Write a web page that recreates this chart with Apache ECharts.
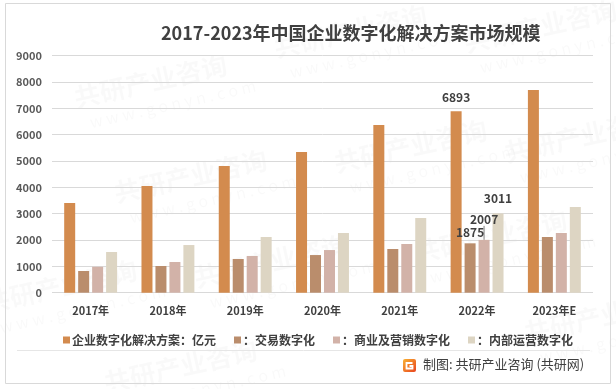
<!DOCTYPE html>
<html><head><meta charset="utf-8">
<script src="https://cdn.jsdelivr.net/npm/echarts@6/dist/echarts.min.js"></script>
<style>html,body{margin:0;padding:0;background:#fff}#c{width:616px;height:389px}</style>
</head><body><div id="c"></div>
<script>
var categories = ['2017年','2018年','2019年','2020年','2021年','2022年','2023年E'];
var seriesNames = ['企业数字化解决方案：亿元','：交易数字化','：商业及营销数字化','：内部运营数字化'];
var total = [3410, 4050, 4810, 5345, 6370, 6893, 7700];
var trade = [825, 1015, 1280, 1430, 1660, 1875, 2115];
var marketing = [985, 1165, 1395, 1620, 1850, 2007, 2267];
var internal = [1545, 1810, 2115, 2267, 2837, 3011, 3255];
var yTicks = [0, 1000, 2000, 3000, 4000, 5000, 6000, 7000, 8000, 9000];
var labelledIndex = 5;

var colors = ['#D38B4E','#BA8D6C','#D2B2A8','#DDD5C3'];
var FONT = '"Noto Sans CJK SC","Noto Sans",sans-serif';
var chart = echarts.init(document.getElementById('c'), null, {renderer:'canvas'});

function mk(values, dy){
  return values.map(function(v,i){
    if(i!==labelledIndex) return v;
    return {value:v, label:{show:true, position:'top', distance: dy, color:'#404040', fontWeight:'bold', fontSize:12, fontFamily:FONT}};
  });
}
var wm = [];
var wmPos = [[130,95],[330,45],[520,40],[170,190],[390,160],[560,150],[40,300],[250,275],[470,250],[160,380],[580,330]];
wmPos.forEach(function(p){
  wm.push({type:'group', x:p[0], y:p[1], rotation:0.22, silent:true, z:-1, children:[
    {type:'text', style:{text:'共研产业咨询', x:-55, y:-22, font:'bold 26px '+FONT, fill:'rgba(0,0,0,0.022)'}},
    {type:'text', style:{text:'w w w . g o n y n . c o m', x:-45, y:10, font:'16px '+FONT, fill:'rgba(0,0,0,0.022)'}}
  ]});
});

var option = {
  animation:false,
  backgroundColor:'#fff',
  title:{text:'2017-2023年中国企业数字化解决方案市场规模', left:156, top:19,
    textStyle:{fontFamily:FONT, fontSize:18, fontWeight:'bold', color:'#404040'}},
  grid:{left:52, right:23, top:55.7, bottom:96.3},
  legend:{data:seriesNames, left:58, top:329, itemWidth:7, itemHeight:7, itemGap:18, icon:'rect',
    textStyle:{fontFamily:FONT, fontSize:12, fontWeight:'bold', color:'#404040', padding:[0,0,0,-3]}},
  xAxis:{type:'category', data:categories, axisLine:{show:false}, axisTick:{show:false},
    axisLabel:{fontFamily:FONT, fontSize:11, fontWeight:'bold', color:'#404040', margin:13}},
  yAxis:{type:'value', min:yTicks[0], max:yTicks[yTicks.length-1], interval:1000,
    axisLine:{show:false}, axisTick:{show:false},
    splitLine:{lineStyle:{color:'#d9d9d9', width:1}},
    axisLabel:{fontFamily:FONT, fontSize:11, fontWeight:'bold', color:'#595959', margin:10,
      formatter:function(v){return String(v);}}},
  series:[
    {name:seriesNames[0], type:'bar', data:mk(total,8), barWidth:11, barGap:'27%', itemStyle:{color:colors[0]}},
    {name:seriesNames[1], type:'bar', data:mk(trade,5), barWidth:11, barGap:'27%', itemStyle:{color:colors[1]}},
    {name:seriesNames[2], type:'bar', data:mk(marketing,2), barWidth:11, barGap:'27%', itemStyle:{color:colors[2]},
      labelLayout:{dy:-12},
      labelLine:{show:true, lineStyle:{color:'#808080', width:1}}},
    {name:seriesNames[3], type:'bar', data:mk(internal,9), barWidth:11, barGap:'27%', itemStyle:{color:colors[3]}}
  ],
  graphic:wm.concat([
    {type:'rect', shape:{x:5.5, y:3.5, width:605, height:380}, style:{fill:null, stroke:'#d9d9d9', lineWidth:1}, silent:true},
    {type:'line', shape:{x1:17, y1:350.5, x2:590, y2:350.5}, style:{stroke:'#e6e6e6', lineWidth:1}},
    {type:'rect', shape:{x:403, y:359, width:13, height:13, r:2},
      style:{fill:new echarts.graphic.LinearGradient(0,0,1,1,[{offset:0,color:'#F9B233'},{offset:1,color:'#E8431F'}])}},
    {type:'polyline', shape:{points:[[412.5,363],[406.5,363],[406.5,368.5],[412.5,368.5],[412.5,366],[409.5,366]]},
      style:{stroke:'#fff', lineWidth:1.8, fill:null}},
    {type:'text', style:{text:'制图: 共研产业咨询 (共研网)', x:423, y:358, font:'13px '+FONT, fill:'#404040'}}
  ])
};
chart.setOption(option);
</script></body></html>
